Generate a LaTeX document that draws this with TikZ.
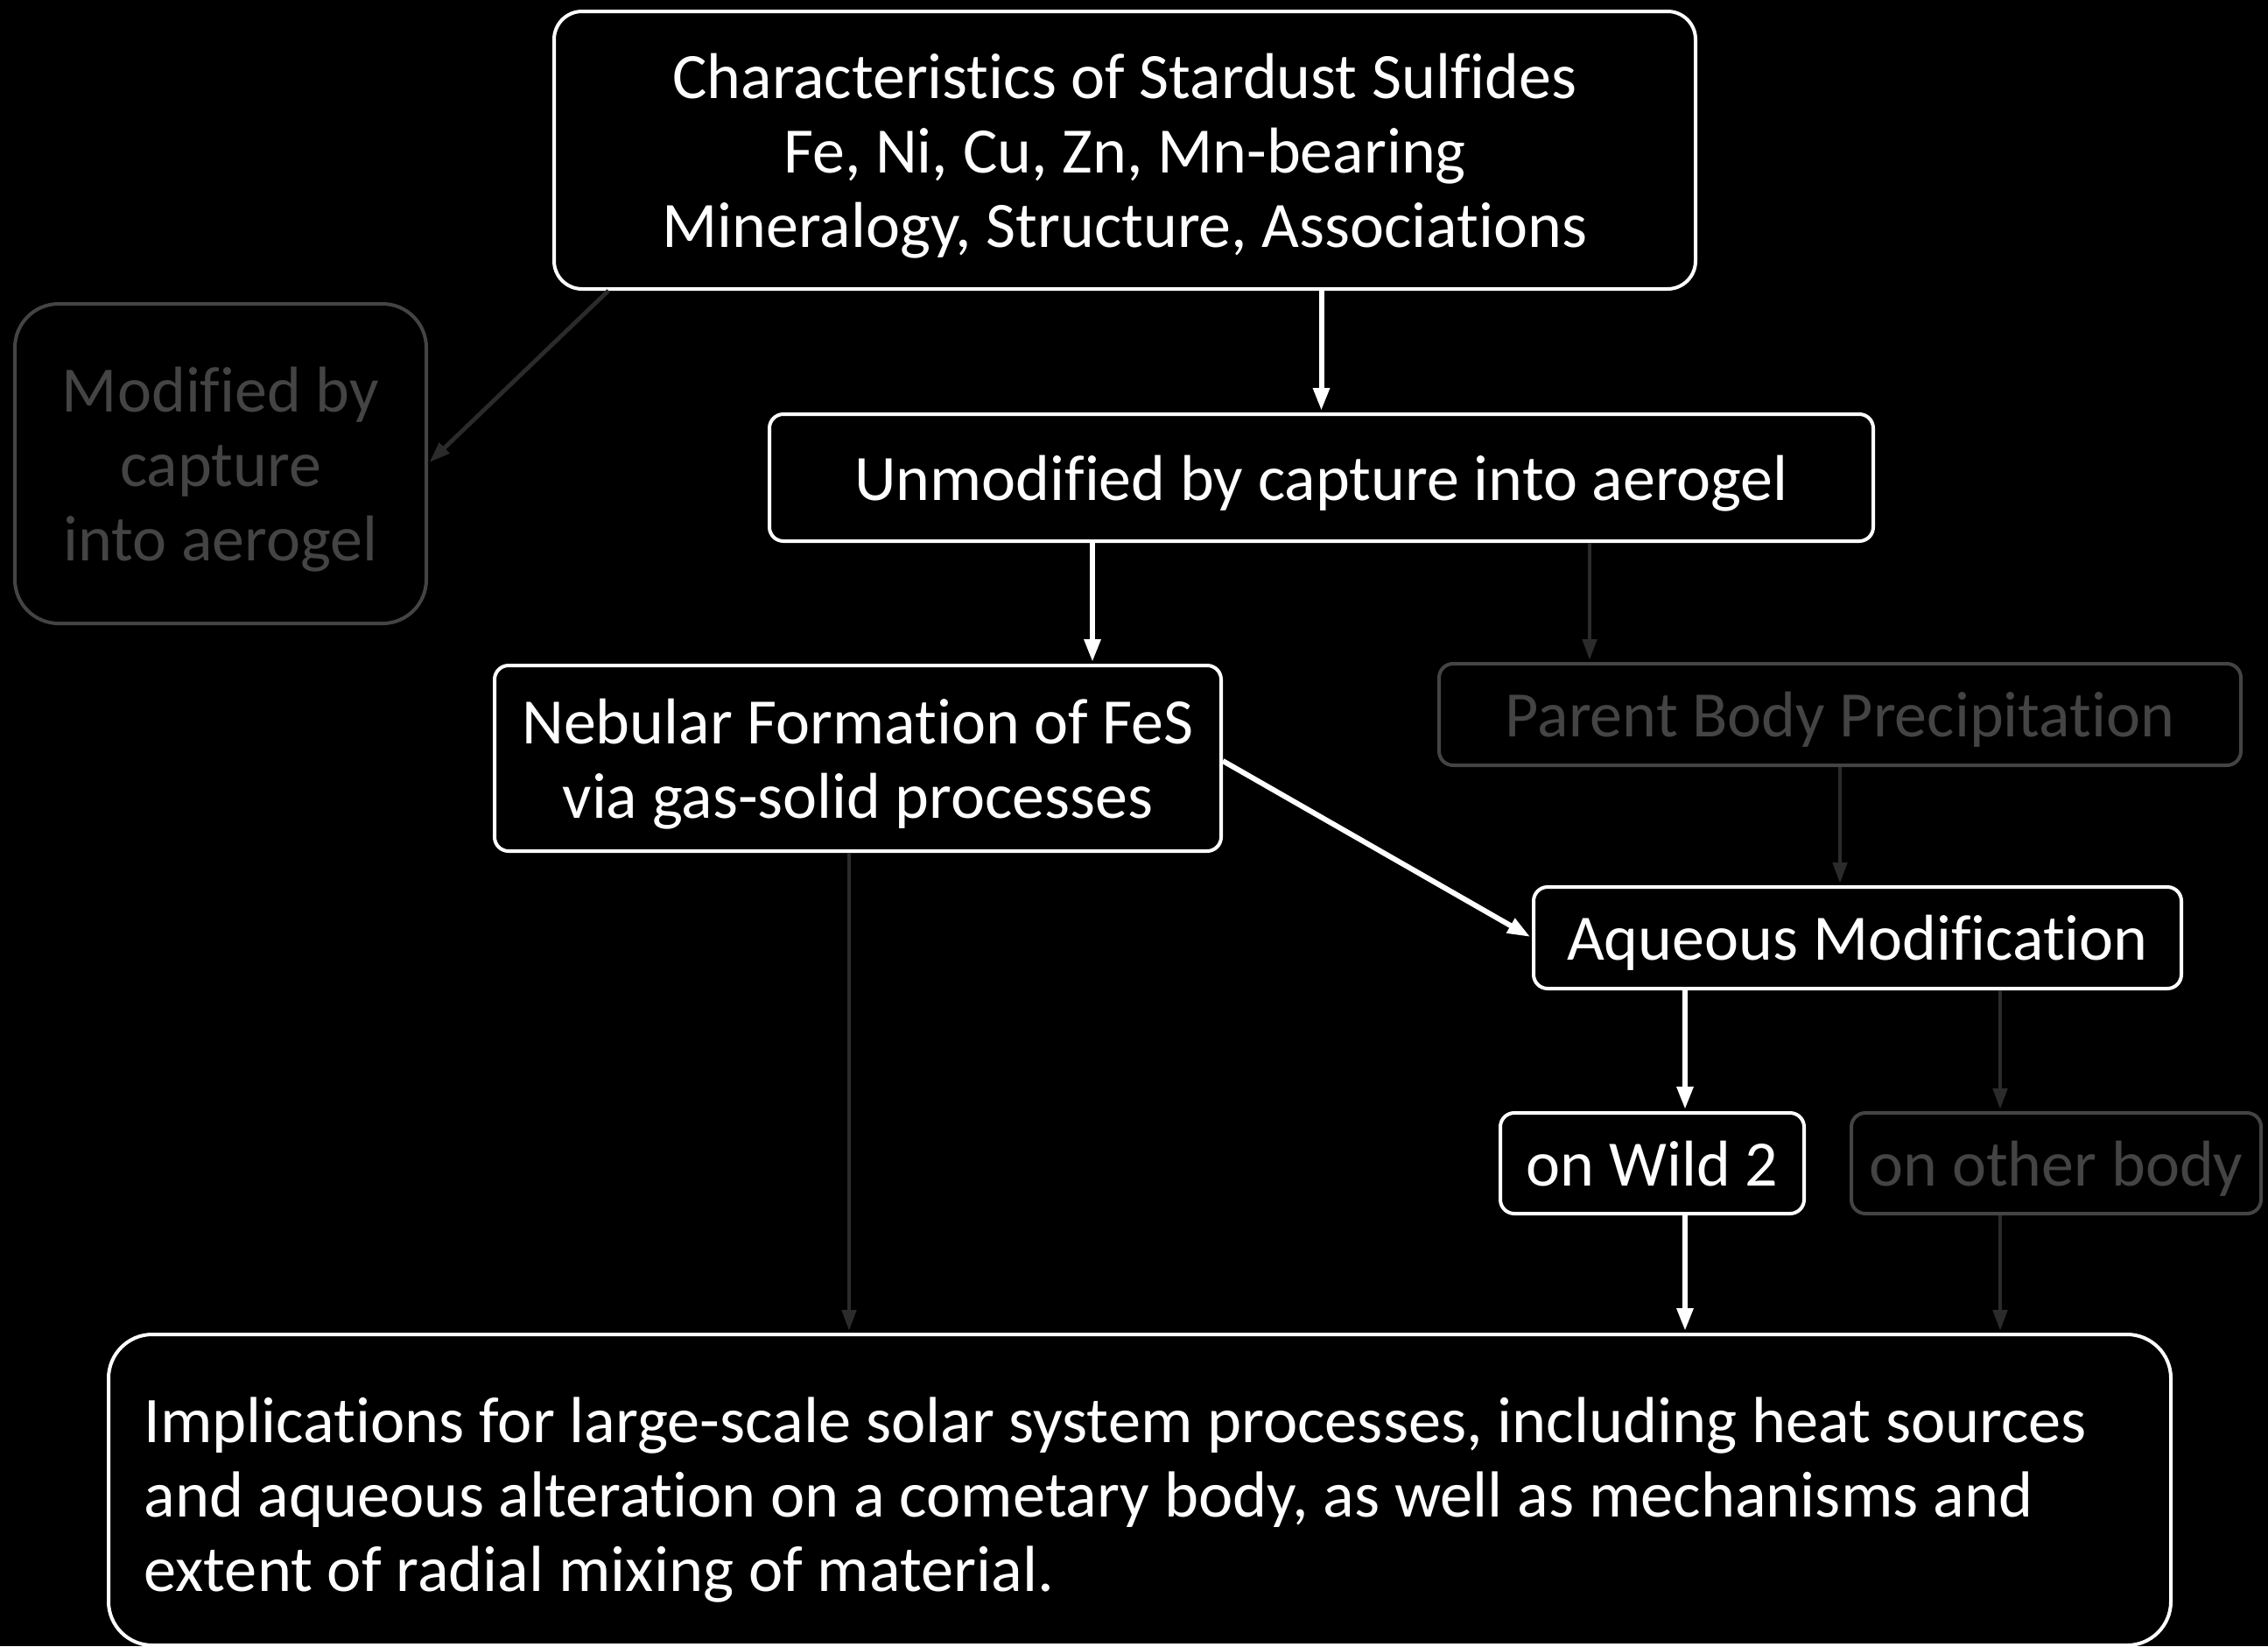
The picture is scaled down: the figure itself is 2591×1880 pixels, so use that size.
\documentclass[tikz,border=0pt]{standalone}
\usepackage{fontspec}
\setmainfont{Carlito}[Ligatures=NoCommon]
\usetikzlibrary{arrows.meta}
\definecolor{gbox}{HTML}{444444}
\definecolor{garrow}{HTML}{2B2B2B}
\begin{document}
\begin{tikzpicture}[x=0.5pt,y=-0.5pt,
  box/.style={draw=white, line width=2pt, rounded corners=8pt, text=white, align=center,
    inner sep=0pt, text depth=0pt, font=\fontsize{37}{42.5}\selectfont},
  greybox/.style={box, draw=gbox, text=gbox},
  arr/.style={draw=white, line width=3pt, -{Triangle[length=13pt,width=9pt]}, shorten >=1pt},
  garr/.style={draw=garrow, line width=2.4pt, -{Triangle[length=12pt,width=8pt]}, shorten >=1pt}]
\fill[black] (0,0) rectangle (2591,1880);
\useasboundingbox (0,0) rectangle (2591,1880);

\node[box, rounded corners=16pt, minimum width=652pt, minimum height=158.5pt] (top) at (1285,171.5)
  {Characteristics of Stardust Sulfides\\Fe, Ni, Cu, Zn, Mn-bearing\\Mineralogy, Structure, Associations};
\node[greybox, rounded corners=25pt, minimum width=235pt, minimum height=182.5pt] (mod) at (252,529.5)
  {Modified by\\capture\\into aerogel};
\node[box, minimum width=630.5pt, minimum height=72.5pt] (unmod) at (1509.5,545.5)
  {Unmodified by capture into aerogel};
\node[box, minimum width=415pt, minimum height=106pt] (neb) at (980,866)
  {Nebular Formation of FeS\\via gas-solid processes};
\node[greybox, minimum width=458pt, minimum height=58pt] (par) at (2102,816)
  {Parent Body Precipitation};
\node[box, minimum width=370pt, minimum height=58pt] (aq) at (2122,1071)
  {Aqueous Modification};
\node[box, minimum width=173.5pt, minimum height=57.5pt] (wild) at (1887.5,1328.5)
  {on Wild 2};
\node[greybox, minimum width=234pt, minimum height=57.5pt] (other) at (2349,1328.5)
  {on other body};
\node[box, rounded corners=25pt, minimum width=1178pt, minimum height=177.5pt] (impl) at (1302,1701.5) {};
\node[text=white, align=left, inner sep=0pt, anchor=west, font=\fontsize{37.2}{42.5}\selectfont] (impltext) at (164,1713)
  {Implications for large-scale solar system processes, including heat sources\\
   and aqueous alteration on a cometary body, as well as mechanisms and\\
   extent of radial mixing of material.};

% connectors
\draw[arr] (unmod.north |- top.south) -- (unmod.north);
\draw[garr] ([xshift=32pt]top.south west) -- (mod.east);
\draw[arr] ([xshift=-130.75pt]unmod.south) -- ([xshift=-130.75pt]unmod.south |- neb.north);
\draw[garr] ([xshift=153.25pt]unmod.south) -- ([xshift=153.25pt]unmod.south |- par.north);
\draw[garr] (par.south) -- (par.south |- aq.north);
\draw[arr] ([yshift=-1.5pt]neb.east) -- (aq.west);
\draw[arr] ([xshift=-98.5pt]aq.south) -- ([xshift=-98.5pt]aq.south |- wild.north);
\draw[garr] ([xshift=81.5pt]aq.south) -- ([xshift=81.5pt]aq.south |- other.north);
\draw[arr] ([xshift=-98.5pt]aq.south |- wild.south) -- ([xshift=-98.5pt]aq.south |- impl.north);
\draw[garr] ([xshift=81.5pt]aq.south |- other.south) -- ([xshift=81.5pt]aq.south |- impl.north);
\draw[garr] ([xshift=-5pt]neb.south) -- ([xshift=-5pt]neb.south |- impl.north);
\end{tikzpicture}
\end{document}
